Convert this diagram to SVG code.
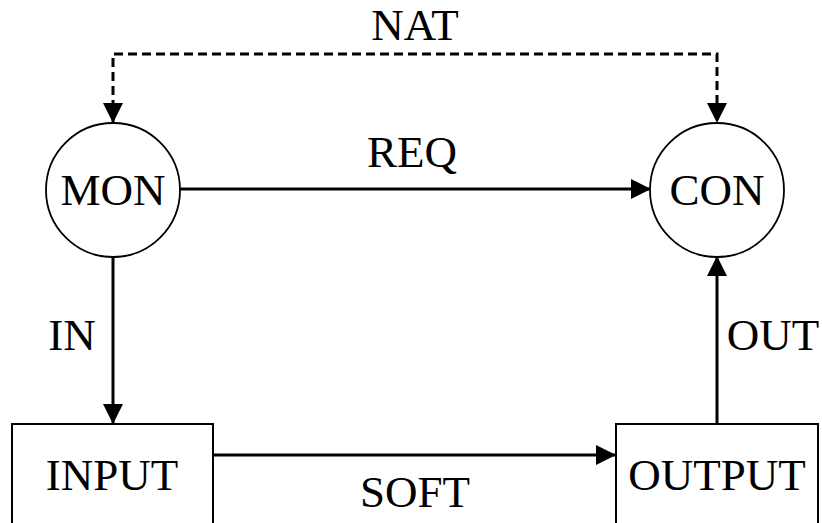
<svg xmlns="http://www.w3.org/2000/svg" width="822" height="523" viewBox="0 0 822 523">
<style>
text{font-family:"Liberation Serif","Times New Roman",serif;font-size:45px;fill:#000;text-anchor:middle}
.node{fill:#fff;stroke:#000;stroke-width:2}
.c{fill:#fff;stroke:#000;stroke-width:1.8}
.edge{fill:none;stroke:#000;stroke-width:3}
.dash{stroke-dasharray:9 5}
</style>
<defs>
<marker id="ah" markerUnits="userSpaceOnUse" markerWidth="20" markerHeight="20" viewBox="0 0 19 19" refX="19" refY="9.5" orient="auto-start-reverse">
<path d="M0,0 L19,9.5 L0,19 Z" fill="#000"/>
</marker>
</defs>
<rect width="822" height="523" fill="#fff"/>
<g id="edges">
<path class="edge dash" d="M113,123 V54 H717 V123" marker-start="url(#ah)" marker-end="url(#ah)"/>
<line class="edge" x1="179" y1="189" x2="651" y2="189" marker-end="url(#ah)"/>
<line class="edge" x1="113" y1="256" x2="113" y2="424" marker-end="url(#ah)"/>
<line class="edge" x1="213" y1="455" x2="616" y2="455" marker-end="url(#ah)"/>
<line class="edge" x1="717" y1="424" x2="717" y2="256" marker-end="url(#ah)"/>
<text x="415" y="40">NAT</text>
<text x="412" y="167">REQ</text>
<text x="72" y="350">IN</text>
<text x="773" y="350">OUT</text>
<text x="415" y="507">SOFT</text>
</g>
<g id="MON">
<circle class="c" cx="113" cy="190" r="67"/>
<text x="113" y="205">MON</text>
</g>
<g id="CON">
<circle class="c" cx="717" cy="190" r="67"/>
<text x="717" y="205">CON</text>
</g>
<g id="INPUT">
<rect class="node" x="12" y="424" width="201" height="110"/>
<text x="112" y="490">INPUT</text>
</g>
<g id="OUTPUT">
<rect class="node" x="616" y="424" width="202" height="110"/>
<text x="717" y="490">OUTPUT</text>
</g>
</svg>
